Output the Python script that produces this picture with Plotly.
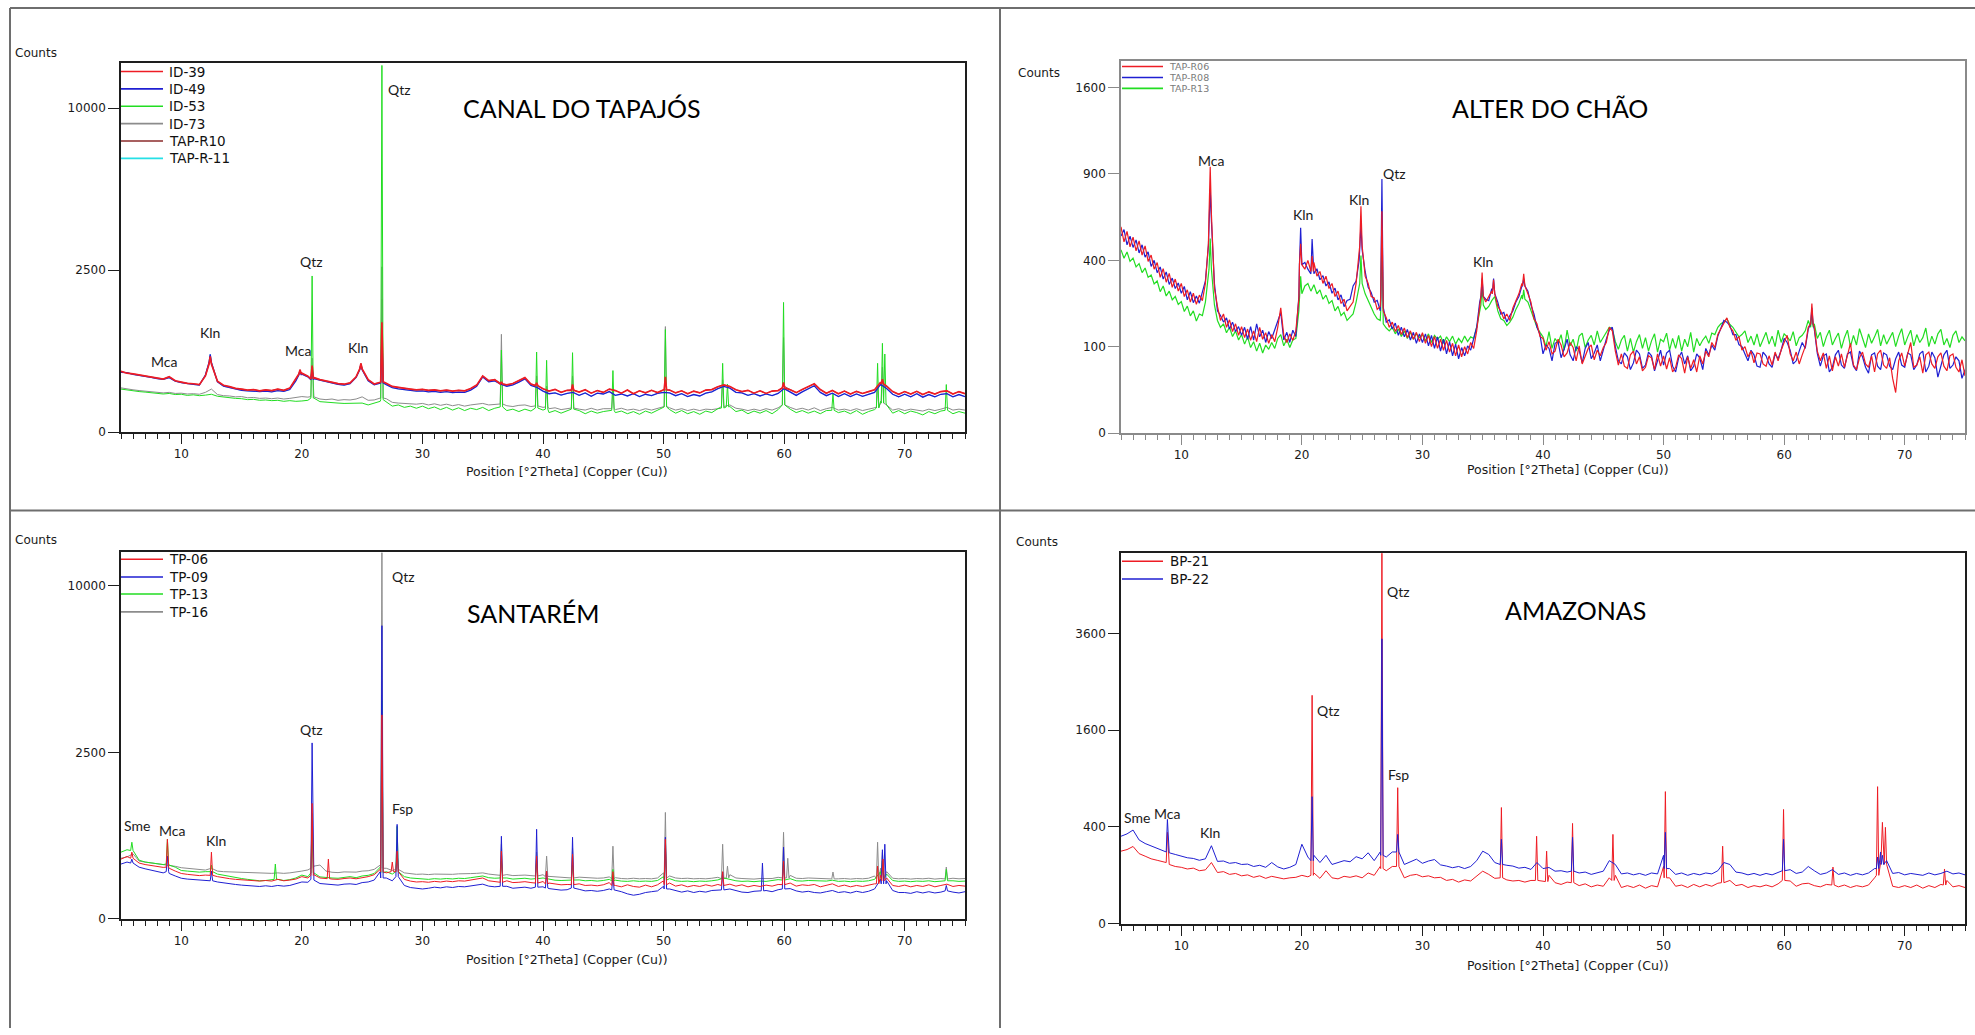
import math
import plotly.graph_objects as go

W, H = 1975, 1035

# 2-theta sampling grids of the scans (degrees)
TT_HALF = [5 + 0.5 * i for i in range(141)]      # 5.0 ... 75.0, 0.5 deg step
TT_QUARTER = [5 + 0.25 * i for i in range(281)]  # 5.0 ... 75.0, 0.25 deg step
PEAK_HW = 0.1  # half width of the sharp reflections (deg)

# ---------------------------------------------------------------- CANAL DO TAPAJÓS
ID_39 = [352, 330, 322, 312, 298, 290, 276, 268, 292, 250,
         238, 226, 222, 214, 300, 470, 246, 208, 196, 182,
         176, 168, 172, 162, 170, 164, 176, 166, 184, 262,
         330, 298, 282, 262, 248, 236, 224, 218, 230, 290,
         410, 262, 220, 236, 226, 198, 190, 180, 176, 170,
         174, 166, 170, 162, 168, 160, 166, 162, 180, 210,
         300, 252, 262, 228, 212, 224, 250, 282, 220, 206,
         178, 160, 174, 150, 166, 172, 152, 170, 144, 164,
         150, 176, 164, 144, 168, 140, 162, 146, 166, 148,
         170, 168, 146, 162, 140, 160, 146, 168, 172, 196,
         212, 198, 170, 156, 166, 144, 162, 142, 160, 164,
         200, 170, 148, 172, 196, 222, 172, 144, 164, 140,
         160, 138, 158, 142, 156, 170, 236, 200, 156, 136,
         156, 138, 158, 134, 154, 138, 156, 162, 138, 156,
         140]
ID_39_PEAKS = [(12.4, 545, 440), (19.85, 370, 320), (20.85, 420, 270), (24.9, 450, 380),
               (26.64, 1150, 240), (36.55, 240, 220), (39.47, 230, 205), (42.45, 215, 165),
               (50.15, 290, 170), (59.95, 235, 185), (68.15, 265, 220)]

ID_49 = [340, 336, 316, 306, 300, 284, 272, 264, 282, 246,
         232, 222, 216, 210, 310, 490, 240, 200, 188, 176,
         166, 162, 160, 156, 160, 154, 164, 158, 172, 250,
         320, 290, 272, 256, 240, 228, 216, 210, 222, 284,
         400, 250, 212, 228, 214, 188, 178, 170, 164, 160,
         162, 154, 158, 150, 156, 148, 152, 150, 168, 200,
         290, 240, 250, 218, 200, 212, 238, 270, 208, 190,
         160, 140, 146, 130, 142, 150, 128, 146, 122, 144,
         138, 156, 128, 138, 124, 140, 120, 136, 126, 142,
         150, 146, 126, 140, 120, 134, 124, 144, 154, 180,
         198, 184, 150, 146, 128, 140, 124, 138, 126, 142,
         180, 150, 128, 154, 176, 204, 150, 126, 144, 120,
         140, 120, 138, 122, 136, 150, 216, 180, 136, 118,
         136, 118, 140, 116, 134, 118, 136, 140, 118, 134,
         120]
ID_49_PEAKS = [(12.4, 575, 460), (19.85, 360, 310), (20.85, 400, 260), (24.9, 440, 370),
               (26.64, 900, 230)]

ID_53 = [176, 168, 162, 156, 152, 146, 144, 138, 142, 134,
         136, 128, 132, 126, 130, 136, 122, 116, 112, 108,
         106, 100, 102, 96, 98, 94, 96, 90, 94, 90,
         92, 96, 110, 88, 84, 82, 80, 78, 78, 76,
         80, 70, 78, 90, 88, 64, 70, 58, 64, 54,
         64, 52, 60, 48, 58, 46, 56, 44, 54, 48,
         58, 44, 54, 58, 44, 50, 40, 50, 42, 54,
         46, 36, 44, 34, 42, 50, 44, 32, 42, 34,
         40, 44, 36, 42, 32, 40, 30, 42, 34, 44,
         56, 48, 34, 44, 32, 40, 30, 42, 36, 52,
         56, 62, 40, 46, 32, 42, 34, 44, 32, 48,
         70, 50, 36, 44, 34, 42, 32, 44, 54, 36,
         42, 32, 44, 30, 40, 48, 90, 70, 34, 44,
         32, 42, 36, 28, 40, 32, 42, 52, 32, 40,
         34]
ID_53_PEAKS = [(20.85, 2320, 110), (26.64, 12800, 100), (36.55, 640, 60), (39.47, 610, 55),
               (40.3, 490, 50), (42.45, 600, 50), (45.8, 360, 45), (50.15, 1000, 60),
               (54.9, 450, 55), (55.3, 220, 60), (59.95, 1600, 70), (64.05, 140, 45),
               (67.75, 450, 55), (68.15, 750, 80), (68.35, 580, 80), (73.45, 215, 45)]

ID_73 = [186, 176, 170, 164, 158, 154, 150, 146, 150, 142,
         144, 138, 140, 136, 150, 176, 134, 126, 124, 118,
         120, 112, 114, 108, 110, 106, 110, 104, 108, 112,
         120, 116, 118, 104, 100, 104, 96, 100, 98, 104,
         118, 96, 98, 110, 106, 84, 80, 78, 76, 74,
         78, 70, 76, 68, 74, 66, 72, 64, 70, 72,
         78, 70, 72, 74, 66, 62, 68, 70, 62, 64,
         58, 52, 56, 48, 54, 58, 50, 46, 54, 46,
         52, 54, 48, 54, 46, 50, 44, 52, 46, 52,
         62, 56, 46, 52, 44, 50, 44, 50, 48, 52,
         68, 70, 54, 50, 44, 50, 44, 52, 46, 56,
         72, 58, 48, 54, 46, 56, 44, 52, 58, 46,
         50, 44, 52, 44, 50, 58, 80, 70, 46, 52,
         44, 50, 46, 42, 50, 44, 50, 58, 46, 50,
         46]
ID_73_PEAKS = [(20.85, 520, 120), (26.64, 2600, 110), (36.55, 910, 75), (39.47, 300, 65),
               (40.3, 200, 60), (42.45, 300, 55), (45.8, 160, 52), (50.15, 1060, 62),
               (54.9, 260, 62), (59.95, 850, 70), (67.75, 200, 58), (68.15, 400, 80)]

# TAP-R10 runs along ID-39 except at the quartz reflections; TAP-R-11 lies on ID-49
TAP_R10 = ID_39
TAP_R10_PEAKS = [(12.4, 545, 440), (19.85, 370, 320), (20.85, 390, 270), (24.9, 450, 380),
                 (26.64, 1680, 240)]
TAP_R11 = ID_49
TAP_R11_PEAKS = ID_49_PEAKS

# ---------------------------------------------------------------- ALTER DO CHÃO
TAP_R06 = [570, 490, 545, 465, 515, 445, 495, 425, 470, 395, 425, 360, 390, 325, 362, 305, 342, 285, 318, 270,
           300, 250, 275, 230, 262, 222, 255, 235, 300, 480, 560, 280, 215, 170, 190, 150, 172, 138, 160, 128,
           152, 122, 145, 115, 140, 112, 150, 118, 135, 108, 130, 112, 150, 210, 128, 110, 132, 115, 140, 240,
           420, 360, 400, 350, 390, 330, 350, 300, 330, 280, 300, 250, 270, 225, 240, 200, 215, 230, 300, 420,
           450, 330, 300, 250, 245, 205, 215, 200, 178, 150, 165, 138, 155, 130, 148, 122, 140, 118, 136, 112,
           135, 108, 128, 100, 125, 96, 118, 92, 115, 88, 108, 80, 104, 78, 100, 84, 110, 96, 140, 220,
           300, 230, 250, 270, 300, 215, 200, 175, 190, 170, 210, 235, 260, 300, 320, 260, 230, 175, 160, 125,
           120, 92, 112, 84, 90, 118, 104, 78, 86, 110, 98, 70, 102, 64, 78, 96, 104, 72, 92, 80,
           98, 110, 150, 140, 90, 62, 84, 60, 56, 82, 90, 64, 78, 52, 58, 80, 76, 54, 84, 60,
           80, 55, 76, 50, 58, 82, 74, 48, 78, 56, 72, 50, 80, 64, 90, 78, 110, 98, 130, 145,
           160, 178, 150, 140, 115, 125, 92, 100, 78, 90, 66, 86, 84, 64, 60, 80, 62, 88, 70, 92,
           110, 128, 84, 70, 88, 64, 82, 100, 150, 200, 150, 90, 70, 86, 56, 80, 52, 78, 60, 84,
           58, 82, 108, 62, 54, 76, 88, 64, 58, 80, 50, 84, 92, 62, 56, 76, 40, 22, 70, 86,
           60, 84, 110, 58, 62, 78, 48, 82, 88, 64, 56, 78, 86, 60, 52, 80, 84, 58, 50, 72,
           44]
TAP_R06_PEAKS = [(12.4, 950, 640), (19.9, 480, 380), (20.85, 420, 350), (24.9, 690, 470),
                 (26.64, 660, 250), (34.95, 345, 250), (35.9, 315, 260), (38.4, 340, 290),
                 (62.3, 225, 160)]

TAP_R08 = [520, 555, 475, 520, 462, 500, 435, 475, 415, 440, 372, 400, 345, 370, 318, 348, 296, 322, 280, 302,
           262, 288, 238, 268, 228, 252, 226, 262, 310, 470, 540, 300, 200, 185, 165, 178, 145, 165, 138, 152,
           128, 150, 118, 152, 116, 160, 124, 142, 110, 138, 120, 142, 165, 195, 116, 136, 110, 142, 125, 250,
           400, 390, 360, 380, 340, 362, 315, 332, 290, 306, 262, 282, 238, 256, 214, 236, 240, 290, 310, 400,
           430, 350, 285, 265, 230, 236, 200, 212, 165, 172, 145, 162, 128, 150, 124, 144, 116, 136, 108, 132,
           110, 132, 102, 128, 96, 124, 90, 118, 84, 112, 80, 106, 74, 98, 80, 102, 92, 118, 150, 230,
           290, 240, 235, 280, 290, 230, 190, 195, 165, 185, 200, 230, 250, 290, 310, 270, 220, 190, 150, 130,
           84, 104, 96, 70, 108, 112, 76, 94, 118, 82, 70, 100, 92, 66, 96, 110, 74, 86, 104, 70,
           96, 118, 142, 150, 100, 70, 64, 86, 78, 54, 66, 92, 84, 56, 62, 88, 80, 52, 70, 92,
           62, 86, 92, 60, 50, 76, 88, 64, 80, 52, 60, 84, 76, 54, 96, 82, 104, 92, 126, 150,
           170, 165, 155, 130, 130, 105, 100, 84, 70, 92, 82, 60, 58, 88, 80, 64, 58, 84, 74, 92,
           120, 110, 92, 64, 70, 90, 110, 96, 145, 200, 145, 85, 60, 80, 84, 50, 58, 82, 92, 62,
           56, 84, 88, 60, 52, 90, 78, 58, 48, 82, 86, 60, 54, 86, 82, 60, 54, 74, 88, 62,
           58, 86, 82, 54, 62, 84, 90, 50, 60, 88, 76, 42, 60, 82, 92, 56, 62, 78, 70, 40,
           54]
TAP_R08_PEAKS = [(12.4, 800, 600), (19.9, 565, 380), (20.85, 505, 340), (24.9, 580, 450),
                 (26.64, 866, 240), (34.95, 320, 250), (35.9, 320, 260), (38.4, 320, 290),
                 (62.3, 210, 160)]

TAP_R13 = [450, 410, 440, 395, 410, 370, 385, 345, 365, 325, 335, 298, 310, 268, 290, 252, 270, 238, 250, 222,
           232, 198, 216, 184, 200, 168, 190, 185, 230, 330, 380, 220, 170, 150, 160, 135, 150, 125, 140, 116,
           130, 106, 124, 98, 112, 90, 108, 86, 104, 94, 110, 96, 120, 130, 102, 118, 98, 116, 120, 200,
           300, 290, 300, 270, 295, 260, 275, 240, 255, 225, 235, 200, 215, 185, 195, 170, 180, 190, 230, 300,
           320, 260, 235, 210, 190, 175, 170, 160, 148, 140, 150, 132, 145, 125, 140, 120, 136, 118, 132, 122,
           130, 114, 132, 110, 128, 118, 126, 108, 124, 112, 126, 106, 120, 110, 126, 112, 124, 120, 150, 200,
           250, 205, 215, 235, 250, 200, 175, 170, 155, 165, 180, 205, 225, 255, 270, 230, 200, 170, 150, 136,
           124, 100, 138, 96, 120, 108, 130, 92, 142, 102, 118, 90, 126, 134, 98, 116, 128, 104, 140, 110,
           122, 136, 150, 146, 112, 94, 116, 128, 90, 120, 88, 112, 130, 96, 122, 90, 114, 132, 88, 118,
           112, 134, 92, 120, 96, 128, 90, 118, 100, 136, 88, 120, 102, 116, 126, 108, 134, 130, 150, 160,
           165, 175, 158, 150, 136, 124, 130, 140, 110, 126, 104, 132, 100, 118, 136, 106, 126, 100, 142, 110,
           132, 124, 114, 138, 102, 122, 128, 140, 170, 200, 160, 120, 136, 100, 124, 142, 104, 120, 134, 96,
           122, 142, 100, 128, 104, 146, 118, 98, 132, 108, 124, 144, 102, 130, 106, 122, 136, 100, 126, 146,
           104, 124, 142, 102, 130, 110, 122, 148, 100, 126, 106, 132, 144, 104, 120, 98, 128, 140, 110, 124,
           114]
TAP_R13_PEAKS = [(12.4, 507, 360), (19.9, 330, 260), (24.9, 423, 300), (26.64, 523, 200),
                 (34.95, 290, 220), (38.4, 275, 240), (62.3, 200, 150)]

# ---------------------------------------------------------------- SANTARÉM
TP_06 = [321, 350, 395, 280, 265, 255, 245, 238, 230, 205,
         185, 178, 175, 168, 172, 300, 160, 150, 145, 140,
         136, 132, 130, 128, 132, 128, 140, 130, 135, 142,
         160, 150, 175, 150, 150, 142, 140, 146, 150, 144,
         152, 160, 175, 220, 190, 200, 210, 140, 128, 122,
         124, 120, 126, 122, 128, 124, 130, 128, 134, 140,
         150, 130, 125, 200, 130, 118, 120, 124, 118, 200,
         125, 115, 108, 104, 106, 200, 110, 100, 102, 98,
         104, 118, 100, 92, 104, 94, 90, 102, 92, 104,
         130, 115, 96, 104, 92, 100, 94, 104, 96, 106,
         150, 108, 96, 104, 92, 100, 94, 102, 96, 106,
         200, 115, 96, 104, 100, 106, 92, 102, 110, 94,
         102, 92, 100, 94, 104, 110, 170, 150, 100, 94,
         102, 92, 100, 94, 104, 92, 100, 108, 94, 100,
         96]
TP_06_PEAKS = [(5.9, 400, 330), (8.85, 570, 240), (12.5, 400, 170), (20.85, 1200, 170),
               (22.2, 321, 145), (26.64, 3750, 200), (27.5, 290, 200), (27.9, 412, 200),
               (36.55, 412, 120), (39.47, 354, 115), (40.3, 205, 110), (42.45, 376, 105),
               (45.8, 200, 100), (50.15, 570, 105), (54.9, 200, 100), (59.95, 300, 105),
               (67.75, 250, 110), (68.2, 321, 130)]

TP_09 = [270, 290, 320, 240, 225, 212, 200, 190, 185, 165,
         148, 142, 138, 132, 130, 180, 122, 115, 110, 106,
         102, 98, 96, 94, 98, 94, 100, 96, 100, 110,
         122, 120, 135, 112, 108, 104, 102, 108, 110, 106,
         118, 122, 135, 200, 150, 130, 170, 100, 88, 82,
         80, 84, 90, 86, 92, 88, 94, 92, 96, 100,
         108, 96, 92, 150, 95, 84, 86, 90, 84, 200,
         92, 82, 76, 74, 76, 150, 78, 70, 72, 68,
         72, 80, 74, 66, 56, 50, 54, 62, 66, 70,
         95, 80, 70, 64, 70, 62, 68, 64, 72, 76,
         90, 80, 72, 64, 62, 68, 70, 72, 66, 76,
         150, 82, 70, 64, 68, 62, 60, 66, 72, 62,
         66, 60, 68, 62, 68, 80, 140, 130, 72, 62,
         62, 58, 66, 60, 66, 60, 64, 72, 64, 60,
         66]
TP_09_PEAKS = [(5.9, 321, 280), (8.85, 354, 200), (12.5, 205, 130), (20.85, 2790, 140),
               (26.64, 7750, 150), (27.9, 804, 160), (36.55, 614, 95), (39.47, 722, 90),
               (40.3, 200, 85), (42.45, 599, 85), (45.8, 160, 75), (50.15, 599, 80),
               (54.9, 197, 75), (58.2, 279, 70), (59.95, 462, 80), (68.15, 430, 110),
               (68.35, 501, 110), (73.45, 100, 70)]

TP_13 = [400, 430, 480, 310, 290, 280, 272, 265, 260, 240,
         210, 205, 200, 196, 200, 240, 180, 170, 160, 152,
         146, 140, 134, 130, 132, 136, 140, 132, 138, 150,
         172, 160, 190, 158, 152, 150, 148, 155, 160, 152,
         165, 170, 185, 240, 200, 180, 220, 160, 150, 145,
         143, 140, 145, 142, 146, 143, 148, 146, 152, 158,
         165, 152, 148, 200, 150, 142, 145, 148, 142, 220,
         150, 140, 134, 132, 134, 200, 136, 130, 132, 128,
         132, 140, 134, 128, 126, 130, 126, 128, 126, 132,
         160, 145, 130, 126, 128, 124, 128, 126, 130, 136,
         150, 140, 130, 126, 128, 124, 128, 126, 130, 138,
         200, 145, 130, 128, 132, 130, 126, 128, 134, 126,
         128, 124, 128, 126, 130, 140, 200, 180, 132, 126,
         128, 124, 128, 126, 130, 124, 128, 160, 130, 126,
         128]
TP_13_PEAKS = [(5.9, 528, 420), (8.85, 570, 270), (12.5, 260, 200), (17.8, 270, 140),
               (20.85, 1000, 190), (26.64, 4300, 190), (27.9, 770, 200), (36.55, 300, 150),
               (39.47, 300, 145), (42.45, 260, 135), (45.8, 220, 130), (50.15, 450, 135),
               (59.95, 300, 135), (68.15, 300, 140), (73.45, 220, 130)]

TP_16 = [330, 345, 380, 300, 290, 282, 278, 270, 262, 248,
         235, 228, 222, 218, 214, 230, 205, 200, 198, 195,
         192, 190, 188, 186, 190, 186, 190, 186, 190, 195,
         205, 215, 250, 260, 205, 195, 192, 198, 200, 196,
         205, 208, 220, 260, 230, 210, 240, 190, 182, 178,
         180, 176, 180, 178, 182, 178, 182, 180, 184, 186,
         190, 180, 176, 250, 176, 168, 170, 172, 168, 260,
         175, 162, 158, 156, 155, 250, 156, 152, 150, 148,
         150, 158, 152, 146, 144, 148, 144, 146, 144, 150,
         190, 165, 150, 146, 148, 144, 146, 144, 148, 155,
         220, 175, 150, 146, 144, 142, 146, 144, 146, 155,
         250, 170, 148, 146, 150, 148, 144, 146, 160, 144,
         146, 142, 146, 144, 148, 165, 230, 200, 148, 144,
         146, 142, 146, 144, 148, 142, 146, 170, 148, 144,
         146]
TP_16_PEAKS = [(20.85, 600, 230), (26.64, 12100, 230), (27.9, 400, 220), (36.55, 500, 170),
               (39.47, 400, 165), (40.3, 354, 160), (42.45, 450, 150), (45.8, 475, 145),
               (50.15, 1020, 150), (54.9, 501, 145), (55.3, 250, 150), (59.95, 674, 150),
               (60.3, 330, 150), (64.05, 197, 143), (67.75, 528, 145), (68.15, 400, 150),
               (73.45, 241, 143)]

# ---------------------------------------------------------------- AMAZONAS
BP_21 = [225, 235, 255, 210, 195, 180, 172, 165, 150, 140,
         136, 128, 132, 120, 124, 160, 112, 116, 104, 108,
         98, 102, 92, 98, 88, 96, 90, 86, 90, 92,
         100, 94, 110, 88, 120, 90, 86, 96, 92, 98,
         90, 110, 100, 140, 120, 140, 150, 90, 100, 104,
         94, 98, 90, 92, 80, 84, 74, 82, 78, 96,
         118, 104, 88, 120, 82, 78, 80, 74, 80, 120,
         76, 100, 72, 66, 74, 150, 62, 68, 58, 64,
         60, 90, 100, 56, 62, 56, 64, 54, 62, 58,
         140, 90, 60, 64, 56, 66, 58, 66, 60, 70,
         120, 80, 62, 66, 56, 62, 58, 64, 58, 68,
         200, 78, 60, 68, 70, 62, 58, 66, 80, 58,
         64, 56, 62, 58, 64, 90, 160, 180, 60, 56,
         62, 56, 64, 54, 62, 56, 66, 80, 58, 62,
         56]
BP_21_PEAKS = [(8.85, 357, 160), (20.85, 2230, 100), (26.64, 5900, 130), (27.95, 791, 140),
               (36.55, 577, 90), (39.47, 327, 80), (40.3, 225, 76), (42.45, 430, 72),
               (45.8, 341, 80), (50.15, 746, 90), (54.9, 257, 72), (59.95, 558, 80),
               (64.05, 137, 64), (67.75, 803, 100), (68.15, 439, 200), (68.4, 397, 150),
               (73.3, 128, 64)]

BP_22 = [327, 345, 375, 300, 275, 258, 245, 230, 215, 205,
         196, 186, 182, 172, 180, 260, 166, 168, 156, 160,
         150, 152, 140, 146, 136, 160, 138, 128, 136, 150,
         270, 190, 200, 160, 200, 150, 160, 170, 164, 192,
         180, 215, 170, 220, 190, 220, 250, 150, 162, 178,
         156, 168, 176, 148, 142, 134, 140, 130, 140, 170,
         225, 205, 160, 200, 146, 142, 132, 136, 126, 160,
         130, 135, 118, 120, 114, 250, 110, 114, 104, 112,
         118, 170, 150, 106, 110, 102, 108, 100, 110, 106,
         200, 130, 104, 110, 100, 108, 102, 110, 106, 120,
         160, 150, 114, 110, 102, 108, 100, 108, 102, 114,
         260, 125, 108, 114, 140, 120, 104, 110, 125, 104,
         110, 100, 108, 102, 110, 130, 220, 170, 108, 112,
         102, 108, 104, 100, 110, 102, 108, 118, 106, 110,
         102]
BP_22_PEAKS = [(8.85, 465, 220), (20.85, 690, 170), (26.64, 3470, 200), (27.95, 341, 220),
               (36.55, 305, 150), (42.45, 319, 118), (50.15, 357, 130), (59.95, 305, 120),
               (67.75, 190, 130), (68.15, 200, 150)]

# tick values (counts) on the square-root intensity axes
TICKS_TAPAJOS = [0, 2500, 10000]
TICKS_ALTER = [0, 100, 400, 900, 1600]
TICKS_SANTAREM = [0, 2500, 10000]
TICKS_AMAZONAS = [0, 400, 1600, 3600]

RED, BLUE, GREEN, GRAY = "#ee1c24", "#1f1fd2", "#22dd22", "#8c8c8c"
DARKRED, CYAN = "#8b2b2b", "#26e0e6"

AXIS_FONT = "DejaVu Sans"
LABEL_FONT = "Lato"


def profile(grid, counts, peaks):
    """Merge a sampled scan with its sharp reflections; returns 2theta and sqrt(counts)."""
    assert len(grid) == len(counts), (len(grid), len(counts))
    pts = [(x, c) for x, c in zip(grid, counts)
           if all(abs(x - p) > PEAK_HW + 1e-9 for p, _, _ in peaks)]
    for pos, apex, foot in peaks:
        pts += [(pos - PEAK_HW, foot), (pos, apex), (pos + PEAK_HW, foot)]
    pts.sort()
    return [p[0] for p in pts], [math.sqrt(p[1]) for p in pts]


def fx(px):
    return px / W


def fy(py):
    return 1 - py / H


PANELS = [
    dict(box=(121, 965, 63, 435), top=13000, ticks=TICKS_TAPAJOS, frame="#1e1e1e",
         title="CANAL DO TAPAJÓS", title_at=(582, 109), counts_at=(36, 53), xtitle_at=(567, 475),
         traces=[(TT_HALF, TAP_R11, TAP_R11_PEAKS, CYAN, 0.7), (TT_HALF, TAP_R10, TAP_R10_PEAKS, DARKRED, 0.8),
                 (TT_HALF, ID_73, ID_73_PEAKS, GRAY, 1.0), (TT_HALF, ID_53, ID_53_PEAKS, GREEN, 1.0),
                 (TT_HALF, ID_49, ID_49_PEAKS, BLUE, 1.3), (TT_HALF, ID_39, ID_39_PEAKS, RED, 1.7)],
         legend=dict(rows=[72, 89.5, 107, 124.5, 142, 159.5], x0=121, x1=163, tx=167, size=13.5,
                     color="#111111",
                     entries=[("ID-39", RED), ("ID-49", BLUE), ("ID-53", GREEN), ("ID-73", GRAY),
                              ("TAP-R10", DARKRED), ("TAP-R-11", CYAN)]),
         labels=[("Mca", 164, 364), ("Kln", 210, 335), ("Mca", 298, 353), ("Qtz", 311, 263),
                 ("Kln", 358, 350), ("Qtz", 399, 90)]),
    dict(box=(1121, 1965, 61, 436), top=1860, ticks=TICKS_ALTER, frame="#8a8a8a",
         title="ALTER DO CHÃO", title_at=(1550, 109), counts_at=(1039, 73), xtitle_at=(1568, 473),
         traces=[(TT_QUARTER, TAP_R13, TAP_R13_PEAKS, GREEN, 1.2),
                 (TT_QUARTER, TAP_R08, TAP_R08_PEAKS, BLUE, 1.2),
                 (TT_QUARTER, TAP_R06, TAP_R06_PEAKS, RED, 1.2)],
         legend=dict(rows=[67, 78, 89], x0=1122, x1=1163, tx=1167, size=9.5, color="#7a7a7a",
                     entries=[("TAP-R06", RED), ("TAP-R08", BLUE), ("TAP-R13", GREEN)]),
         labels=[("Mca", 1211, 162), ("Kln", 1303, 216), ("Kln", 1359, 201), ("Qtz", 1394, 175),
                 ("Kln", 1483, 263)]),
    dict(box=(121, 965, 556, 925), top=12122, ticks=TICKS_SANTAREM, frame="#1e1e1e",
         title="SANTARÉM", title_at=(533, 617), counts_at=(36, 544), xtitle_at=(567, 966),
         traces=[(TT_HALF, TP_16, TP_16_PEAKS, GRAY, 1.0), (TT_HALF, TP_13, TP_13_PEAKS, GREEN, 1.0),
                 (TT_HALF, TP_09, TP_09_PEAKS, BLUE, 1.0), (TT_HALF, TP_06, TP_06_PEAKS, RED, 1.0)],
         legend=dict(rows=[563, 581, 598, 616], x0=121, x1=163, tx=167, size=13.5, color="#111111",
                     entries=[("TP-06", RED), ("TP-09", BLUE), ("TP-13", GREEN), ("TP-16", GRAY)]),
         labels=[("Sme", 137, 831), ("Mca", 172, 836), ("Kln", 216, 846), ("Qtz", 311, 734),
                 ("Qtz", 403, 580), ("Fsp", 402, 814)]),
    dict(box=(1121, 1965, 557, 930), top=5868, ticks=TICKS_AMAZONAS, frame="#1e1e1e",
         title="AMAZONAS", title_at=(1575, 614), counts_at=(1037, 546), xtitle_at=(1568, 972),
         traces=[(TT_HALF, BP_21, BP_21_PEAKS, RED, 1.0), (TT_HALF, BP_22, BP_22_PEAKS, BLUE, 1.0)],
         legend=dict(rows=[565, 583], x0=1122, x1=1163, tx=1168, size=13.5, color="#111111",
                     entries=[("BP-21", RED), ("BP-22", BLUE)]),
         labels=[("Sme", 1137, 823), ("Mca", 1167, 819), ("Kln", 1210, 838), ("Qtz", 1328, 715),
                 ("Qtz", 1398, 596), ("Fsp", 1398, 780)]),
]

fig = go.Figure()
layout = dict(width=W, height=H, autosize=False, margin=dict(l=0, r=0, t=0, b=0),
              paper_bgcolor="white", plot_bgcolor="white", showlegend=False)
shapes, annotations = [], []

for i, p in enumerate(PANELS):
    n = "" if i == 0 else str(i + 1)
    l, r, t, b = p["box"]
    frame = p["frame"]
    layout["xaxis" + n] = dict(
        domain=[fx(l), fx(r)], anchor="y" + n, range=[5, 75], tick0=0, dtick=10,
        ticks="outside", ticklen=10, tickwidth=1, tickcolor=frame,
        minor=dict(ticks="outside", tick0=0, dtick=1, ticklen=5, tickwidth=1, tickcolor=frame),
        showline=True, linecolor=frame, linewidth=1.6, mirror=True,
        showgrid=False, zeroline=False,
        tickfont=dict(family=AXIS_FONT, size=12, color="#1a1a1a"))
    layout["yaxis" + n] = dict(
        domain=[fy(b), fy(t)], anchor="x" + n, range=[0, math.sqrt(p["top"])],
        tickmode="array", tickvals=[math.sqrt(v) for v in p["ticks"]],
        ticktext=[str(v) for v in p["ticks"]],
        ticks="outside", ticklen=11, tickwidth=1, tickcolor=frame,
        showline=True, linecolor=frame, linewidth=1.6, mirror=True,
        showgrid=False, zeroline=False,
        tickfont=dict(family=AXIS_FONT, size=12, color="#1a1a1a"))

    for grid, counts, peaks, color, width in p["traces"]:
        xs, ys = profile(grid, counts, peaks)
        fig.add_trace(go.Scatter(x=xs, y=ys, xaxis="x" + n, yaxis="y" + n, mode="lines",
                                 line=dict(color=color, width=width), hoverinfo="skip",
                                 showlegend=False))

    # legend drawn as line samples + labels
    lg = p["legend"]
    for (name, color), row in zip(lg["entries"], lg["rows"]):
        shapes.append(dict(type="line", xref="paper", yref="paper", x0=fx(lg["x0"]), x1=fx(lg["x1"]),
                           y0=fy(row), y1=fy(row), line=dict(color=color, width=1.6)))
        annotations.append(dict(text=name, xref="paper", yref="paper", x=fx(lg["tx"]), y=fy(row),
                                xanchor="left", yanchor="middle", showarrow=False,
                                font=dict(family=AXIS_FONT, size=lg["size"], color=lg["color"])))

    # phase labels
    for txt, lx, ly in p["labels"]:
        annotations.append(dict(text=txt, xref="paper", yref="paper", x=fx(lx), y=fy(ly),
                                xanchor="center", yanchor="middle", showarrow=False,
                                font=dict(family=LABEL_FONT, size=14, color="#1a1a1a")))

    tx, ty = p["title_at"]
    annotations.append(dict(text=p["title"], xref="paper", yref="paper", x=fx(tx), y=fy(ty),
                            xanchor="center", yanchor="middle", showarrow=False,
                            font=dict(family=LABEL_FONT, size=25, color="#000000")))
    cx, cy = p["counts_at"]
    annotations.append(dict(text="Counts", xref="paper", yref="paper", x=fx(cx), y=fy(cy),
                            xanchor="center", yanchor="middle", showarrow=False,
                            font=dict(family=AXIS_FONT, size=12, color="#1a1a1a")))
    xx, xy = p["xtitle_at"]
    annotations.append(dict(text="Position [°2Theta] (Copper (Cu))", xref="paper", yref="paper",
                            x=fx(xx), y=fy(xy), xanchor="center", yanchor="middle", showarrow=False,
                            font=dict(family=AXIS_FONT, size=12.5, color="#1a1a1a")))

# panel separators
SEP = dict(color="#6e6e6e", width=2)
for x0, y0, x1, y1 in [(10, 8, 1975, 8), (10, 8, 10, 1035), (1000, 8, 1000, 1035), (10, 514, 1975, 514)]:
    shapes.append(dict(type="line", xref="paper", yref="paper", x0=fx(x0), y0=fy(y0),
                       x1=fx(x1), y1=fy(y1), line=SEP))

layout["shapes"] = shapes
layout["annotations"] = annotations
fig.update_layout(**layout)
fig.write_html("out.html")
